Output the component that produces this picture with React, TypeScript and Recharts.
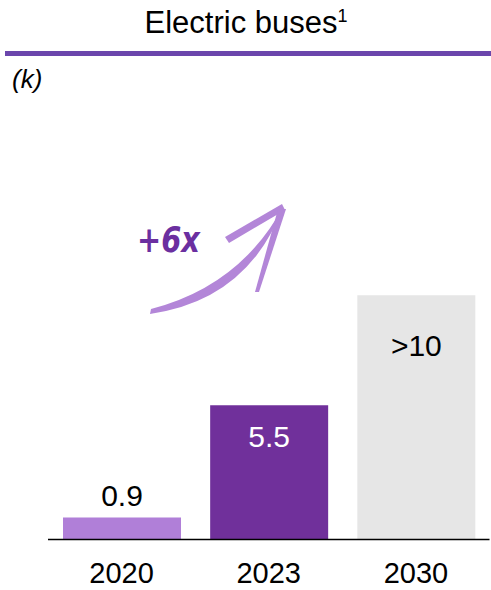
import * as React from 'react';
import { BarChart, Bar, XAxis, YAxis, Cell, LabelList } from 'recharts';

const years = ['2020', '2023', '2030'];
const buses = [0.9, 5.5, 10];
const valueLabels = ['0.9', '5.5', '>10'];

const barColors = ['#B07FD8', '#70309B', '#E6E6E6'];
const labelColors = ['#000000', '#FFFFFF', '#000000'];
// baseline offset of each value label from the bar top (negative = above)
const labelOffsets = [-12, 42, 61];

const font = "Arial, 'Liberation Sans', sans-serif";

const chartData = years.map((y, i) => ({ year: y, value: buses[i], label: valueLabels[i] }));

const YearTick = (props: any) => {
    const { x, payload } = props;
    return (
        <text x={x} y={583} textAnchor='middle' fontSize={29} fontFamily={font} fill='#000'>
            {payload.value}
        </text>
    );
};

const ValueLabel = (props: any) => {
    const { x, y, width, index } = props;
    return (
        <text
            x={x + width / 2}
            y={y + labelOffsets[index]}
            textAnchor='middle'
            fontSize={30}
            fontFamily={font}
            fill={labelColors[index]}
        >
            {valueLabels[index]}
        </text>
    );
};

const Overlay = () => (
    <svg
        width={491}
        height={590}
        style={{ position: 'absolute', left: 0, top: 0, pointerEvents: 'none' }}
    >
        <text x={246} y={33} textAnchor='middle' fontSize={31} fontFamily={font} fill='#000'>
            Electric buses
            <tspan fontSize={18} dy={-11}>1</tspan>
        </text>
        <rect x={5} y={51} width={486} height={5} fill='#6B46AC' />
        <text x={12} y={88} fontSize={26} fontStyle='italic' fontFamily={font} fill='#000'>(k)</text>

        {/* hand drawn arrow */}
        <path d='M150,314 Q248,300 283,207 Q240,286 151,309 Z' fill='#B386D8' />
        <path d='M225,237 L282,204 L285,210 L229,243 Z' fill='#B386D8' />
        <path d='M278,209 L286,209 L259,292 L255,292 Z' fill='#B386D8' />
        <text
            x={137}
            y={252}
            fontSize={36}
            fontWeight='bold'
            fontStyle='italic'
            fontFamily="'DejaVu Sans', sans-serif"
            fill='#6B2FA0'
            textLength={63}
            lengthAdjust='spacingAndGlyphs'
        >
            +6x
        </text>
    </svg>
);

export default function App() {
    return (
        <div style={{ position: 'absolute', left: 0, top: 0, width: 491, height: 590, background: '#fff' }}>
            <BarChart
                width={491}
                height={590}
                data={chartData}
                margin={{ top: 100, right: 1.5, left: 48, bottom: 0 }}
            >
                <XAxis
                    dataKey='year'
                    height={50.5}
                    axisLine={{ stroke: '#000', strokeWidth: 1.5 }}
                    tickLine={false}
                    tick={<YearTick />}
                    interval={0}
                />
                <YAxis hide domain={[0, 18]} />
                <Bar dataKey='value' barSize={118} isAnimationActive={false}>
                    {chartData.map((d, i) => (
                        <Cell key={d.year} fill={barColors[i]} />
                    ))}
                    <LabelList dataKey='label' content={<ValueLabel />} />
                </Bar>
            </BarChart>
            <Overlay />
        </div>
    );
}
